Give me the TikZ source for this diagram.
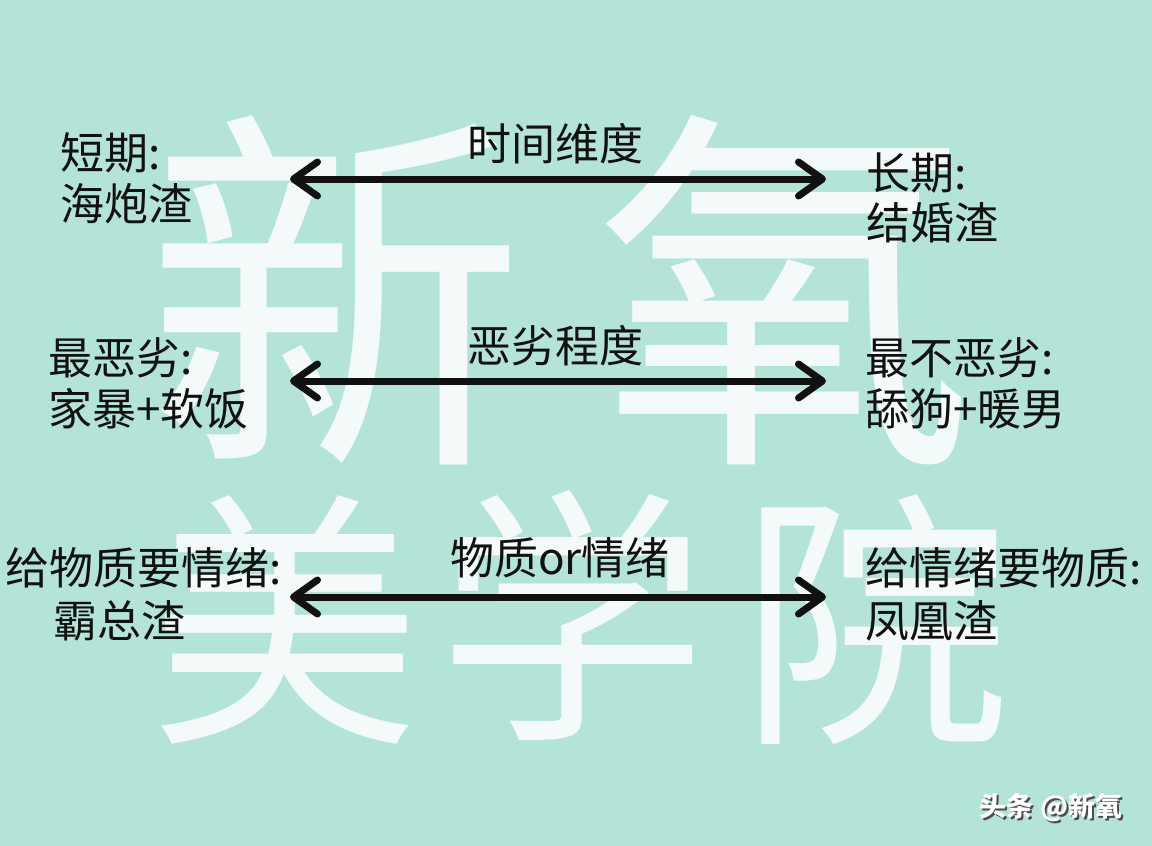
\documentclass[tikz,border=0pt]{standalone}
\usepackage{fontspec}
\setmainfont{Noto Sans CJK SC}
\usetikzlibrary{arrows.meta}
\definecolor{mint}{RGB}{180,228,216}
\definecolor{ink}{RGB}{17,17,17}

\tikzset{
  lbl/.style={anchor=base west, inner sep=0pt, text=ink, font=\fontsize{44}{50}\selectfont},
  ttl/.style={anchor=base, inner sep=0pt, text=ink, font=\fontsize{44}{50}\selectfont},
  wm/.style={inner sep=0pt, text=white, opacity=0.85},
  both/.style={line width=7pt, ink, {Straight Barb[length=24pt,width=34pt,round]}-{Straight Barb[length=24pt,width=34pt,round]}}
}

\begin{document}
\begin{tikzpicture}[x=1pt,y=-1pt]
    \fill[mint] (0,0) rectangle (1152,846);
    \useasboundingbox (0,0) rectangle (1152,846);

    % watermark
    \node[wm, font=\fontsize{380}{380}\selectfont] (W1) at (335,290) {新};
    \node[wm, font=\fontsize{380}{380}\selectfont] (W2) at (785,290) {氧};
    \node[wm, font=\fontsize{270}{270}\selectfont] (W3) at (285,620) {美};
    \node[wm, font=\fontsize{270}{270}\selectfont] (W4) at (572,615) {学};
    \node[wm, font=\fontsize{270}{270}\selectfont] (W5) at (875,620) {院};

    % time
    \node[lbl] (S1) at (60,169) {短期:};
    \node[lbl] (S2) at (60,220) {海炮渣};
    \node[ttl] (T1) at (555,160) {时间维度};
    \node[lbl] (L1) at (866,189) {长期:};
    \node[lbl] (L2) at (866,239) {结婚渣};

    % how bad
    \node[lbl] (B1) at (48,374) {最恶劣:};
    \node[lbl] (B2) at (48,425) {家暴+软饭};
    \node[ttl] (T2) at (555,362) {恶劣程度};
    \node[lbl] (G1) at (865,374) {最不恶劣:};
    \node[lbl] (G2) at (865,425) {舔狗+暖男};

    % material or emotion
    \node[lbl] (M1) at (5,584) {给物质要情绪:};
    \node[lbl] (M2) at (53,637) {霸总渣};
    \node[ttl] (T3) at (560,574) {物质or情绪};
    \node[lbl] (E1) at (865,584) {给情绪要物质:};
    \node[lbl] (E2) at (865,637) {凤凰渣};

    \coordinate (a1l) at (290,179);
    \coordinate (a1r) at (826,179);
    \coordinate (a2l) at (290,381);
    \coordinate (a2r) at (826,381);
    \coordinate (a3l) at (290,597);
    \coordinate (a3r) at (826,597);

    \draw[both] (a1l) -- (a1r);
    \draw[both] (a2l) -- (a2r);
    \draw[both] (a3l) -- (a3r);

    % credit
    \node[inner sep=0pt, text=black!70, font=\bfseries\fontsize{27}{30}\selectfont] (C0) at (1053,810) {头条 @新氧};
    \node[inner sep=0pt, text=white, font=\bfseries\fontsize{27}{30}\selectfont] (C) at (1051,808) {头条 @新氧};
  \end{tikzpicture}
\end{document}
